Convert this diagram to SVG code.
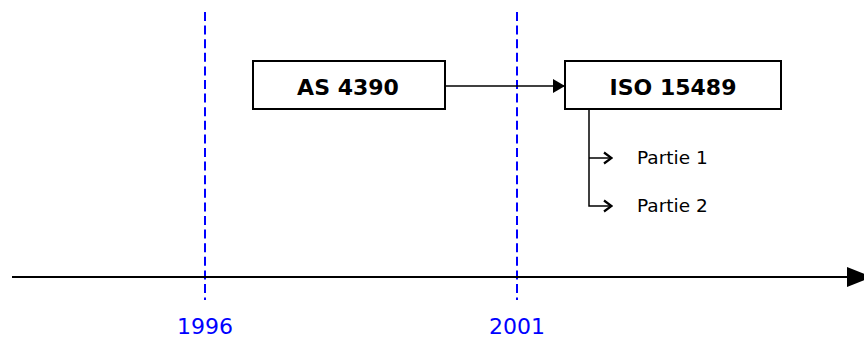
<svg xmlns="http://www.w3.org/2000/svg" width="864" height="338" viewBox="0 0 864 338">
<style>
.box{fill:#fff;stroke:#000;stroke-width:2}
.lbl{font-family:"DejaVu Sans",Verdana,sans-serif;font-weight:bold;font-size:22px;text-anchor:middle}
.sub{font-family:"DejaVu Sans",Verdana,sans-serif;font-size:18.5px}
.year{font-family:"DejaVu Sans",Verdana,sans-serif;font-size:22px;fill:#0000ff;text-anchor:middle}
.guide{stroke:#0000ff;stroke-width:2;stroke-dasharray:9,4.6;fill:none}
.line{stroke:#000;stroke-width:1.5;fill:none}
</style>
<defs>
<marker id="tri" markerWidth="12" markerHeight="14" refX="12" refY="7" orient="auto" markerUnits="userSpaceOnUse">
<path d="M0,0 L12,7 L0,14 z" fill="#000"/>
</marker>
<marker id="open" markerWidth="12" markerHeight="14" refX="11" refY="7" orient="auto" markerUnits="userSpaceOnUse">
<path d="M3,1.5 L10.5,7 L3,12.5" fill="none" stroke="#000" stroke-width="2.2"/>
</marker>
</defs>
<g id="guides">
<line class="guide" x1="205" y1="12" x2="205" y2="300"/>
<line class="guide" x1="517" y1="12" x2="517" y2="300"/>
</g>
<g id="timeline">
<line x1="12" y1="277" x2="848" y2="277" stroke="#000" stroke-width="2"/>
<polygon points="847,267 872,277 847,287" fill="#000"/>
</g>
<g id="connectors">
<line class="line" x1="445" y1="86" x2="565" y2="86" marker-end="url(#tri)"/>
<polyline class="line" points="589,109 589,206 612,206" marker-end="url(#open)"/>
<line class="line" x1="589" y1="158" x2="612" y2="158" marker-end="url(#open)"/>
</g>
<g id="as4390">
<rect class="box" x="253" y="61" width="192" height="48"/>
<text class="lbl" x="348" y="95">AS 4390</text>
</g>
<g id="iso15489">
<rect class="box" x="565" y="61" width="216" height="48"/>
<text class="lbl" x="673" y="95">ISO 15489</text>
</g>
<g id="partie1"><text class="sub" x="637" y="164">Partie 1</text></g>
<g id="partie2"><text class="sub" x="637" y="212">Partie 2</text></g>
<g id="y1996"><text class="year" x="205" y="334">1996</text></g>
<g id="y2001"><text class="year" x="517" y="334">2001</text></g>
</svg>
